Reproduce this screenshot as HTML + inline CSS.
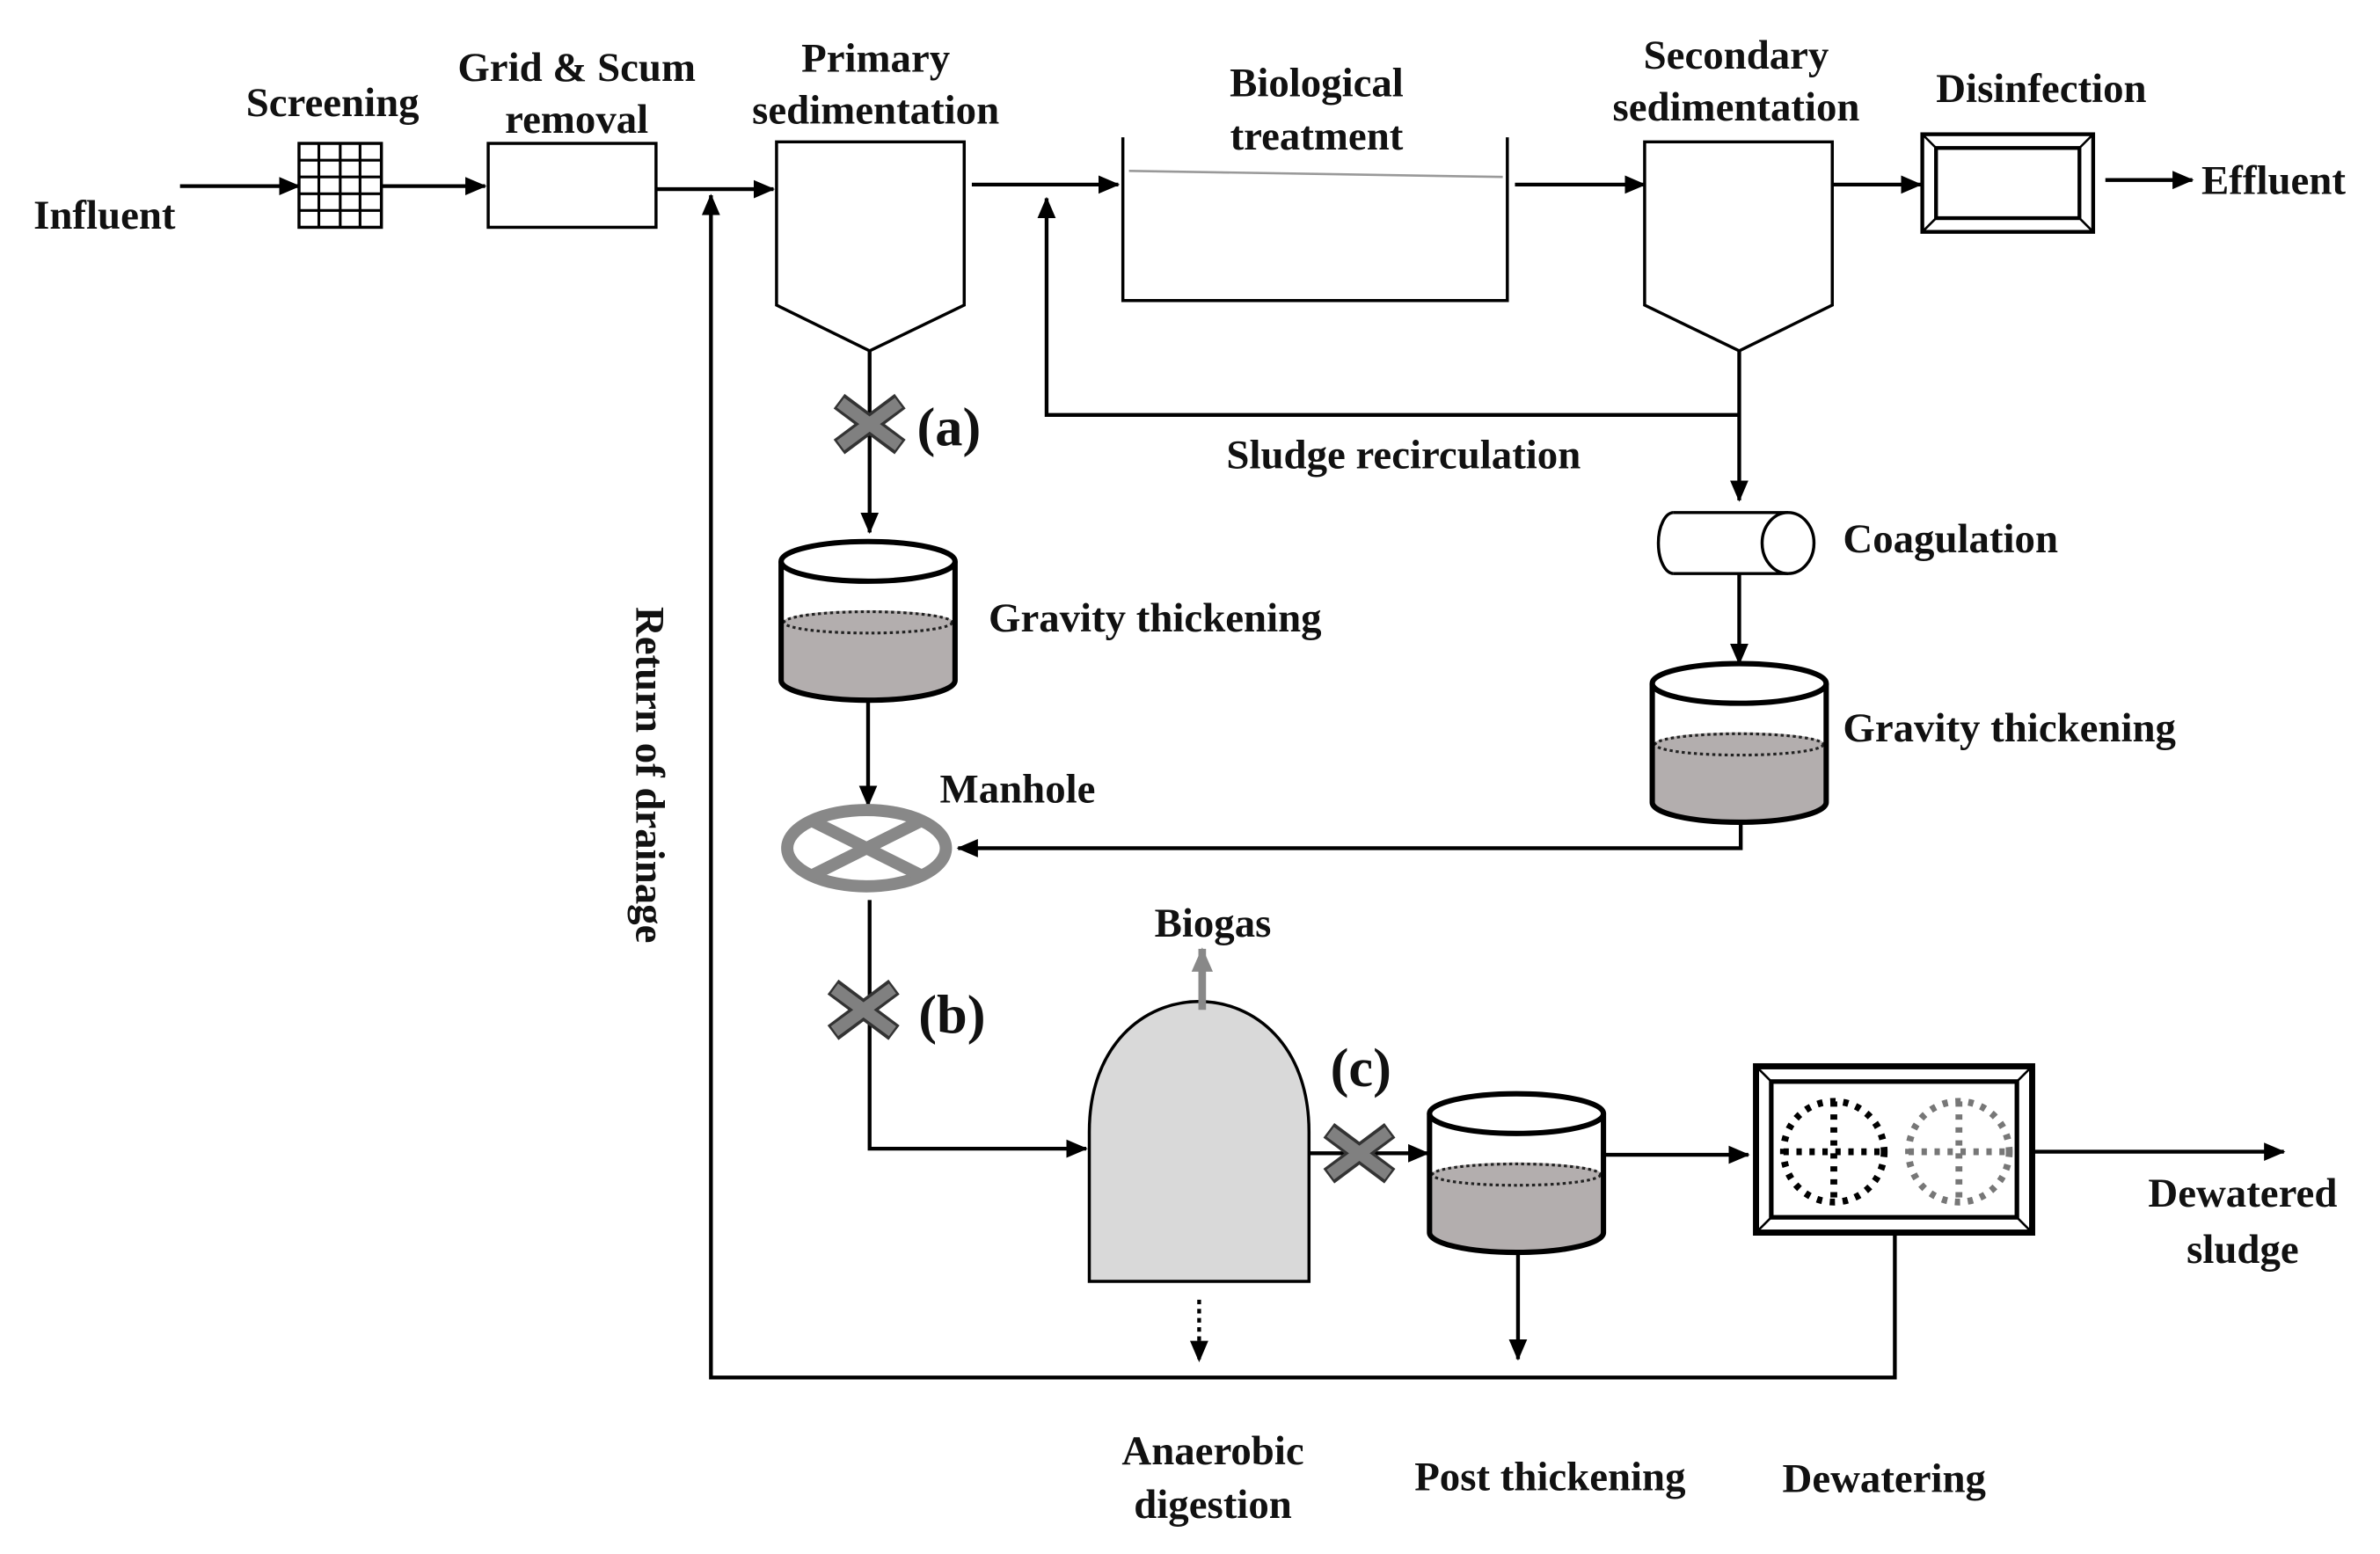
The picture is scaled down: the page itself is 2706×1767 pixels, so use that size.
<!DOCTYPE html>
<html><head><meta charset="utf-8"><style>
html,body{margin:0;padding:0;background:#fff}
svg{display:block}
text{font-family:"Liberation Serif",serif;font-weight:bold;font-size:27px;fill:#111}
text.big{font-size:36px}
</style></head><body>
<svg width="2706" height="1767" viewBox="0 0 1560 1018.7" preserveAspectRatio="none" xmlns="http://www.w3.org/2000/svg">
<defs>
<marker id="a" markerUnits="userSpaceOnUse" markerWidth="14" markerHeight="14" refX="13" refY="7" orient="auto"><path d="M0,1 L14,7 L0,13 Z" fill="#000"/></marker>
<marker id="g" markerUnits="userSpaceOnUse" markerWidth="16" markerHeight="16" refX="15" refY="8" orient="auto"><path d="M0,1 L16,8 L0,15 Z" fill="#888"/></marker>
<g id="cyl">
<path d="M-57,0 V78 A57,13 0 0 0 57,78 V0" fill="#fff" stroke="#000" stroke-width="3"/>
<path d="M-56,40 V78 A56,12 0 0 0 56,78 V40 A56,8 0 0 0 -56,40 Z" fill="#b3aeae"/>
<ellipse cx="0" cy="40" rx="55" ry="7" fill="none" stroke="#222" stroke-width="1.8" stroke-dasharray="2 2"/>
<path d="M-57,0 V78 A57,13 0 0 0 57,78 V0" fill="none" stroke="#000" stroke-width="3.5"/>
<ellipse cx="0" cy="0" rx="57" ry="13" fill="#fff" stroke="#000" stroke-width="3.5"/>
</g>
<g id="x">
<path d="M-20,-15 L20,15 M20,-15 L-20,15" stroke="#333" stroke-width="12" stroke-linecap="butt"/>
<path d="M-19,-14 L19,14 M19,-14 L-19,14" stroke="#808080" stroke-width="8"/>
</g>
</defs>
<g fill="none" stroke="#000" stroke-width="2.5">
<line x1="118" y1="122" x2="196" y2="122" marker-end="url(#a)"/>
<rect x="196" y="94" width="54" height="55" stroke-width="2"/>
<path d="M209,94V149M223,94V149M236,94V149M196,105H250M196,116H250M196,127H250M196,138H250" stroke-width="1.8"/>
<line x1="250" y1="122" x2="318" y2="122" marker-end="url(#a)"/>
<rect x="320" y="94" width="110" height="55" stroke-width="2"/>
<line x1="430" y1="124" x2="507" y2="124" marker-end="url(#a)"/>
<path d="M509,93 H632 V200 L570,230 L509,200 Z" stroke-width="2"/>
<line x1="570" y1="230" x2="570" y2="349" marker-end="url(#a)"/>
<line x1="637" y1="121" x2="733" y2="121" marker-end="url(#a)"/>
<path d="M1140,272 H686 V130" marker-end="url(#a)"/>
<path d="M736,90 V197 H988 V90" stroke-width="2"/>
<line x1="740" y1="112" x2="985" y2="116" stroke="#999" stroke-width="1.5"/>
<line x1="993" y1="121" x2="1078" y2="121" marker-end="url(#a)"/>
<path d="M1078,93 H1201 V200 L1140,230 L1078,200 Z" stroke-width="2"/>
<line x1="1140" y1="230" x2="1140" y2="328" marker-end="url(#a)"/>
<line x1="1201" y1="121" x2="1259" y2="121" marker-end="url(#a)"/>
<rect x="1260" y="88" width="112" height="64" stroke-width="2.5"/>
<rect x="1269" y="97" width="94" height="46" stroke-width="2.5"/>
<path d="M1260,88 L1269,97 M1372,88 L1363,97 M1260,152 L1269,143 M1372,152 L1363,143" stroke-width="1.5"/>
<line x1="1380" y1="118" x2="1437" y2="118" marker-end="url(#a)"/>
<path d="M1097,336 H1172 M1097,376 H1172" stroke-width="2"/>
<path d="M1097,336 A10,20 0 0 0 1097,376" stroke-width="2"/>
<ellipse cx="1172" cy="356" rx="17" ry="20" fill="#fff" stroke-width="2"/>
<line x1="1140" y1="376" x2="1140" y2="435" marker-end="url(#a)"/>
<path d="M1141,530 V556 H628" marker-end="url(#a)"/>
<line x1="569" y1="450" x2="569" y2="528" marker-end="url(#a)"/>
<path d="M570,590 V753 H712" marker-end="url(#a)"/>
<path d="M714,840 V742 C714,628 858,628 858,742 V840 Z" fill="#d9d9d9" stroke-width="2"/>
<line x1="788" y1="662" x2="788" y2="622" stroke="#888" stroke-width="5" marker-end="url(#g)"/>
<line x1="858" y1="756" x2="936" y2="756" marker-end="url(#a)"/>
<line x1="1052" y1="757" x2="1146" y2="757" marker-end="url(#a)"/>
<rect x="1151" y="699" width="181" height="109" stroke-width="4"/>
<rect x="1161" y="709" width="161" height="89" stroke-width="3"/>
<path d="M1151,699 L1161,709 M1332,699 L1322,709 M1151,808 L1161,798 M1332,808 L1322,798" stroke-width="1.5"/>
<line x1="1332" y1="755" x2="1497" y2="755" marker-end="url(#a)"/>
<line x1="786" y1="852" x2="786" y2="892" stroke-dasharray="3 3" marker-end="url(#a)"/>
<line x1="995" y1="815" x2="995" y2="891" marker-end="url(#a)"/>
<path d="M1242,808 V903 H466 V128" marker-end="url(#a)"/>
</g>
<g fill="none" stroke-width="4.5" stroke-dasharray="3.5 5">
<circle cx="1202" cy="755" r="33" stroke="#000"/>
<path d="M1202,722V788M1169,755H1235" stroke="#000"/>
<circle cx="1284" cy="755" r="33" stroke="#777"/>
<path d="M1284,722V788M1251,755H1317" stroke="#777"/>
</g>
<use href="#cyl" x="569" y="368"/>
<use href="#cyl" x="1140" y="448"/>
<use href="#cyl" x="994" y="730"/>
<ellipse cx="568" cy="556" rx="52" ry="25" fill="none" stroke="#888" stroke-width="8"/>
<path d="M532,538 L604,574 M604,538 L532,574" stroke="#888" stroke-width="8"/>
<use href="#x" x="570" y="278"/>
<use href="#x" x="566" y="662"/>
<use href="#x" x="891" y="756"/>
<text x="22" y="150">Influent</text>
<text x="218" y="76" text-anchor="middle">Screening</text>
<text x="378" y="53" text-anchor="middle">Grid &amp; Scum</text>
<text x="378" y="87" text-anchor="middle">removal</text>
<text x="574" y="47" text-anchor="middle">Primary</text>
<text x="574" y="81" text-anchor="middle">sedimentation</text>
<text x="863" y="63" text-anchor="middle">Biological</text>
<text x="863" y="98" text-anchor="middle">treatment</text>
<text x="1138" y="45" text-anchor="middle">Secondary</text>
<text x="1138" y="79" text-anchor="middle">sedimentation</text>
<text x="1338" y="67" text-anchor="middle">Disinfection</text>
<text x="1443" y="127">Effluent</text>
<text class="big" x="601" y="292">(a)</text>
<text class="big" x="602" y="677">(b)</text>
<text class="big" x="872" y="712">(c)</text>
<text x="920" y="307" text-anchor="middle">Sludge  recirculation</text>
<text x="1208" y="362">Coagulation</text>
<text x="648" y="414">Gravity thickening</text>
<text x="1208" y="486">Gravity thickening</text>
<text x="616" y="526">Manhole</text>
<text x="795" y="614" text-anchor="middle">Biogas</text>
<text x="1470" y="791" text-anchor="middle">Dewatered</text>
<text x="1470" y="828" text-anchor="middle">sludge</text>
<text x="795" y="960" text-anchor="middle">Anaerobic</text>
<text x="795" y="995" text-anchor="middle">digestion</text>
<text x="1016" y="977" text-anchor="middle">Post thickening</text>
<text x="1235" y="978" text-anchor="middle">Dewatering</text>
<text transform="translate(417,508) rotate(90)" text-anchor="middle">Return of drainage</text>
</svg>
</body></html>
